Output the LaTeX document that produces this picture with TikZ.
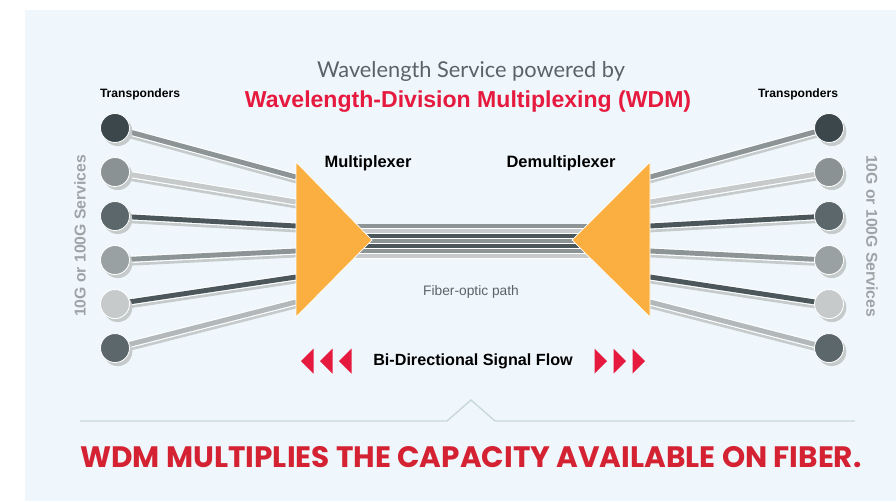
\documentclass[tikz,border=0pt]{standalone}
\usepackage{fontspec}
\setmainfont{Liberation Sans}
\newfontfamily\thinfont{Lato}
\newfontfamily\capsfont{Poppins}
\usepackage{tikz}
\usetikzlibrary{positioning,shapes,shadows,arrows}

\definecolor{bgblue}{HTML}{EFF7FC}
\definecolor{wdmred}{HTML}{E6193E}
\definecolor{capred}{HTML}{D42232}
\definecolor{muxorange}{HTML}{FBAF40}
\definecolor{shadegray}{HTML}{C5CACB}
\definecolor{svcgray}{HTML}{9EA4A6}
\definecolor{titlegray}{HTML}{5A6468}
\definecolor{rulegray}{HTML}{C9D7DF}
\definecolor{pdark}{HTML}{3B474B}
\definecolor{pmid}{HTML}{8A9294}
\definecolor{pslate}{HTML}{5B676A}
\definecolor{psoft}{HTML}{9AA1A3}
\definecolor{plight}{HTML}{C6CACB}
\definecolor{wmid}{HTML}{8C9496}
\definecolor{wlight}{HTML}{C6CACB}
\definecolor{wdark}{HTML}{4B575B}
\definecolor{wpale}{HTML}{B3B9BA}

\pgfdeclarelayer{back}
\pgfdeclarelayer{wires}
\pgfsetlayers{back,wires,main}

\begin{document}
\begin{tikzpicture} [x=0.025cm,y=-0.025cm,node distance=1.1cm,
    port/.style={circle,draw=white,line width=0.6pt,minimum size=0.725cm,inner sep=0pt,
      drop shadow={shadow xshift=2pt,shadow yshift=-2.5pt,fill=shadegray,opacity=1}},
    wire/.style={line width=3.5pt},
    wireedge/.style={draw=white,line width=5pt},
    wireshade/.style={draw=shadegray,line width=2pt},
    heading/.style={font=\bfseries\fontsize{11.7}{14}\selectfont},
    flowtip/.style={fill=wdmred}]

  \useasboundingbox (0,0) rectangle (896,501);
  \begin{pgfonlayer}{back}
    \fill[white] (0,0) rectangle (896,501);
    \fill[bgblue] (25,10) rectangle (896,501);
    \draw[rulegray,line width=1pt] (80,421) -- (447,421) -- (471,400) -- (495,421) -- (855,421);
  \end{pgfonlayer}

  % transponders
  \node[port,fill=pdark] (l1) at (115,128) {};
  \node[port,fill=pmid] (l2) [below of=l1] {};
  \node[port,fill=pslate] (l3) [below of=l2] {};
  \node[port,fill=psoft] (l4) [below of=l3] {};
  \node[port,fill=plight] (l5) [below of=l4] {};
  \node[port,fill=pslate] (l6) [below of=l5] {};

  \node[port,fill=pdark] (r1) at (829,128) {};
  \node[port,fill=pmid] (r2) [below of=r1] {};
  \node[port,fill=pslate] (r3) [below of=r2] {};
  \node[port,fill=psoft] (r4) [below of=r3] {};
  \node[port,fill=plight] (r5) [below of=r4] {};
  \node[port,fill=pslate] (r6) [below of=r5] {};

  % mux / demux
  \coordinate (mxtop) at (296,162);
  \coordinate (mxtip) at (372,240);
  \coordinate (mxbot) at (296,317);
  \coordinate (dmtop) at (650,162);
  \coordinate (dmtip) at (572,240);
  \coordinate (dmbot) at (650,317);
  \foreach \i/\y in {1/177,2/202,3/226,4/251,5/277,6/302} {
    \coordinate (m\i) at (296,\y);
    \coordinate (d\i) at (650,\y);
  }

  \begin{pgfonlayer}{wires}
    \foreach \i/\c in {1/wmid,2/wlight,3/wdark,4/wmid,5/wdark,6/wpale} {
      \draw[wireshade] ([shift={(0,5)}]l\i.center) -- ([shift={(0,5)}]m\i);
      \draw[wireedge] (l\i.center) -- (m\i);
      \draw[wire,draw=\c] (l\i.center) -- (m\i);
      \draw[wireshade] ([shift={(0,5)}]r\i.center) -- ([shift={(0,5)}]d\i);
      \draw[wireedge] (r\i.center) -- (d\i);
      \draw[wire,draw=\c] (r\i.center) -- (d\i);
    }
    % fiber bundle
    \fill[white] ([shift={(-25,-16)}]mxtip) rectangle ([shift={(25,19)}]dmtip);
    \foreach \d/\c in {-14/wmid,-9/wlight,-4/wdark,1/wmid,6/wdark,11/wmid,16/wlight}
      \draw[draw=\c,line width=2.3pt] ([shift={(-25,\d)}]mxtip) -- ([shift={(25,\d)}]dmtip);
  \end{pgfonlayer}

  \fill[shadegray,shift={(3,5)}] (mxtop) -- (mxtip) -- (mxbot) -- cycle;
  \filldraw[muxorange,draw=white,line width=0.5pt] (mxtop) -- (mxtip) -- (mxbot) -- cycle;
  \fill[shadegray,shift={(3,5)}] (dmtop) -- (dmtip) -- (dmbot) -- cycle;
  \filldraw[muxorange,draw=white,line width=0.5pt] (dmtop) -- (dmtip) -- (dmbot) -- cycle;

  % labels
  \node[font=\thinfont\fontsize{15.5}{18}\selectfont,text=titlegray] (svc) at (471,71) {Wavelength Service powered by};
  \node[font=\bfseries\fontsize{16.4}{19}\selectfont,text=wdmred] (wdm) at (468,102) {Wavelength-Division Multiplexing (WDM)};
  \node[font=\bfseries\fontsize{8.6}{10}\selectfont] (tleft) at (140,94) {Transponders};
  \node[font=\bfseries\fontsize{8.6}{10}\selectfont] (tright) at (798,94) {Transponders};
  \node[heading] (muxlabel) at (368,163) {Multiplexer};
  \node[heading] (dmlabel) at (561,163) {Demultiplexer};
  \node[font=\fontsize{9.8}{12}\selectfont,text=titlegray] (fiber) at (471,292) {Fiber-optic path};
  \node[font=\bfseries\fontsize{11.2}{13}\selectfont,text=svcgray,rotate=90] (svcleft) at (80,236) {10G or 100G Services};
  \node[font=\bfseries\fontsize{11.2}{13}\selectfont,text=svcgray,rotate=-90] (svcright) at (872,236) {10G or 100G Services};
  \node[font=\bfseries\fontsize{11.5}{14}\selectfont] (flow) at (473,361) {Bi-Directional Signal Flow};

  \foreach \x in {301,320,339}
    \fill[flowtip] (\x,361) -- ++(12.5,-12.5) -- ++(0,25) -- cycle;
  \foreach \x in {645,626,607}
    \fill[flowtip] (\x,361) -- ++(-12.5,-12.5) -- ++(0,25) -- cycle;

  \node[font=\capsfont\bfseries\fontsize{21}{24}\selectfont,text=capred] (motto) at (471,457) {WDM MULTIPLIES THE CAPACITY AVAILABLE ON FIBER.};

\end{tikzpicture}
\end{document}
